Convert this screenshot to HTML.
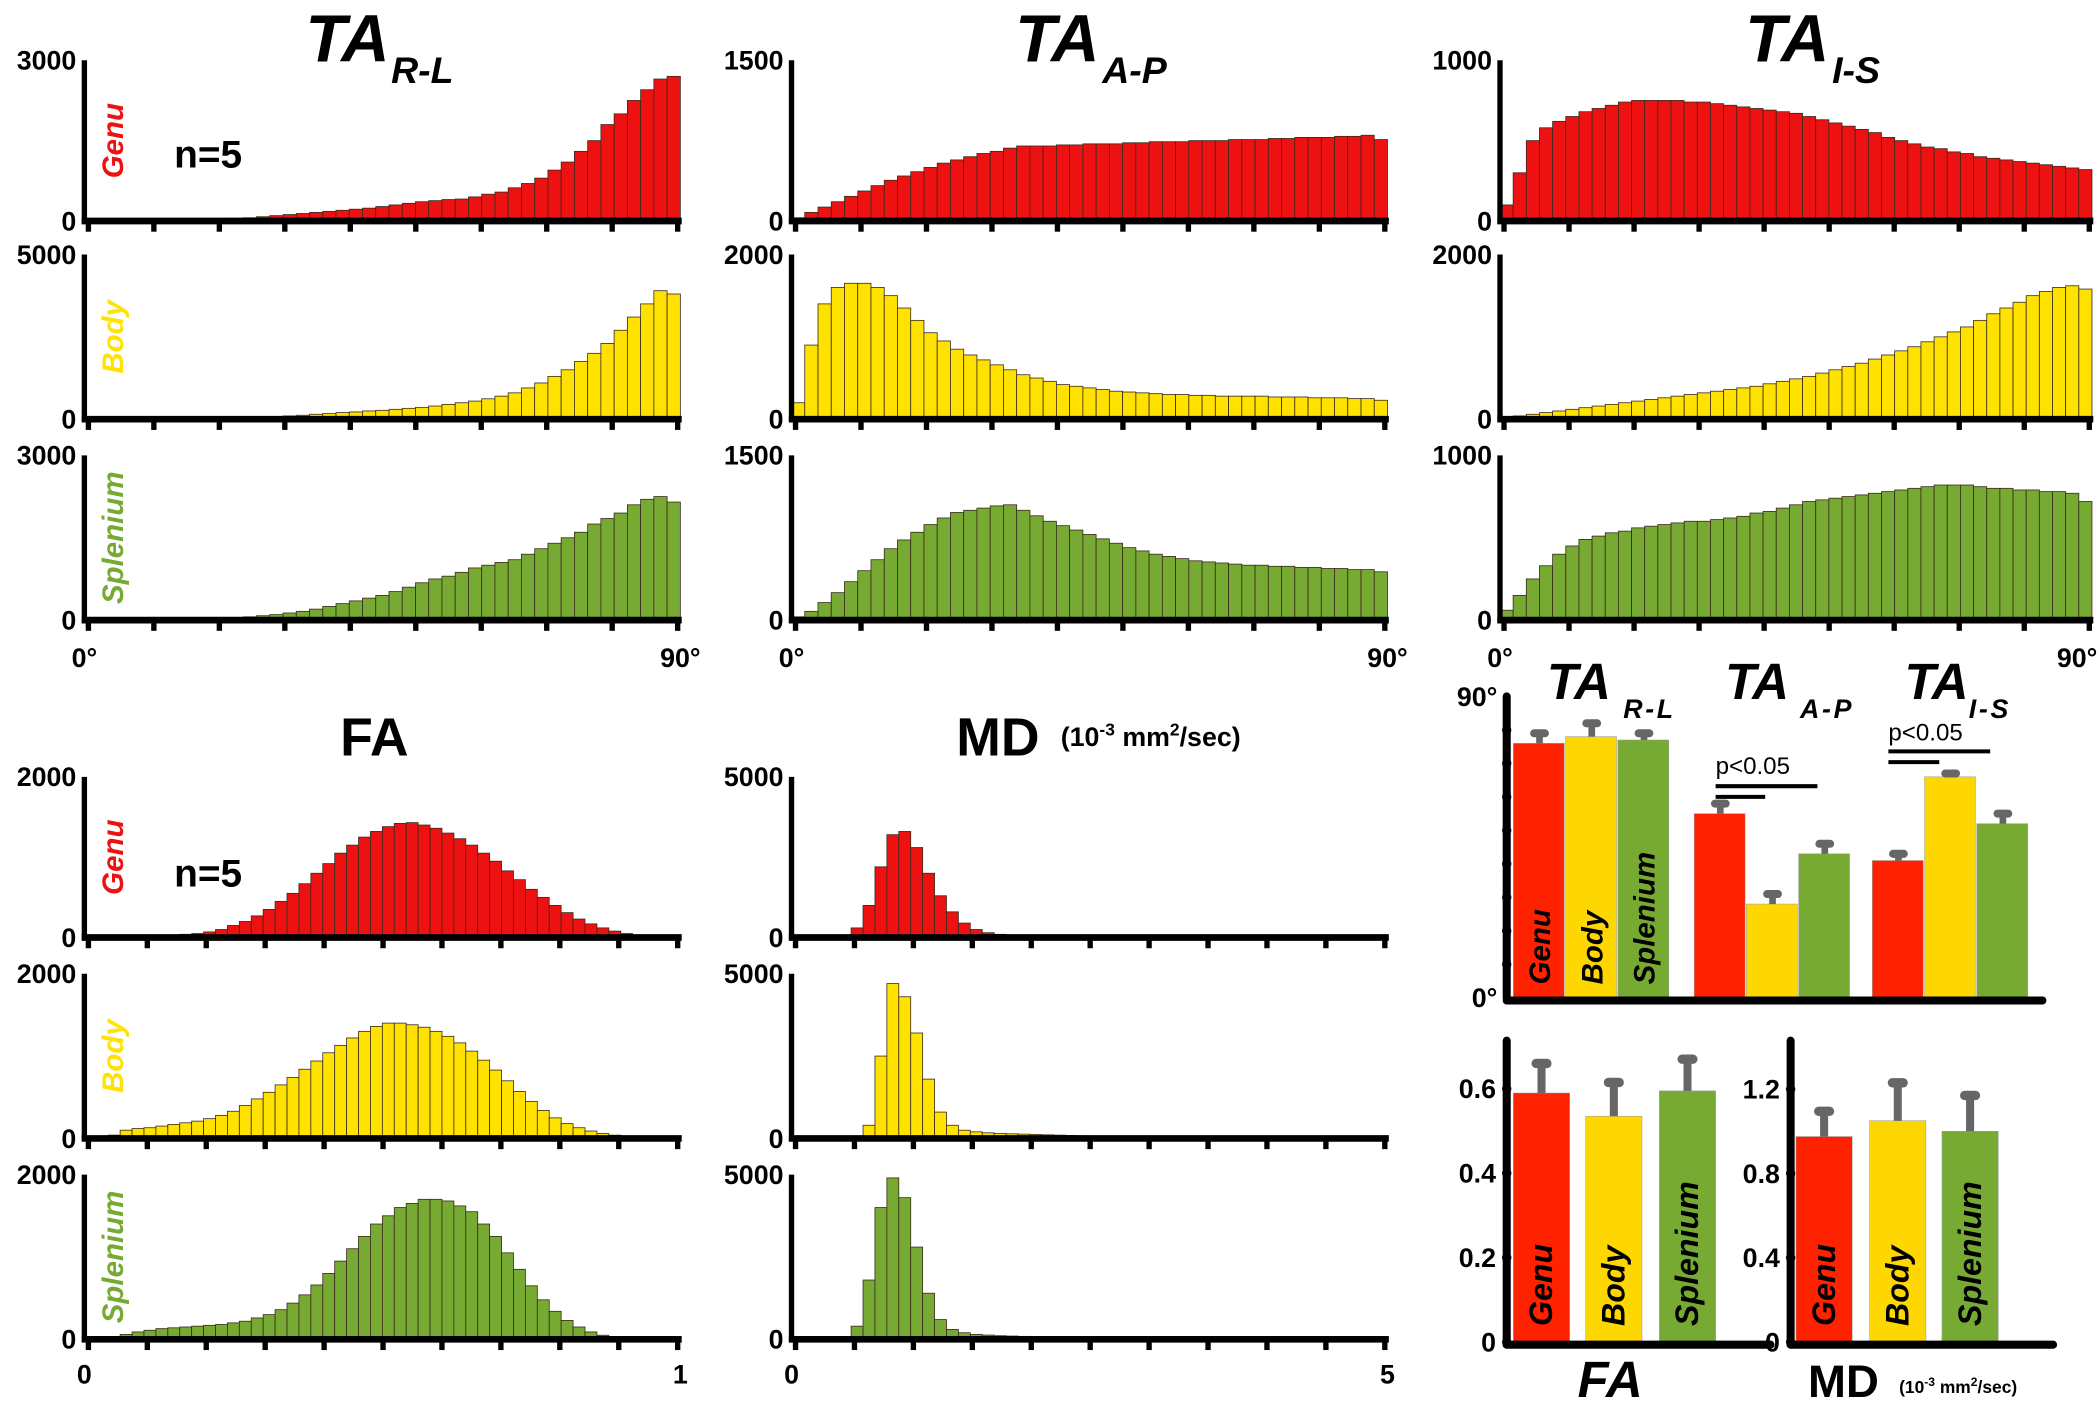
<!DOCTYPE html>
<html><head><meta charset="utf-8"><style>
html,body{margin:0;padding:0;background:#fff;}
svg{display:block;font-family:"Liberation Sans",sans-serif;}
</style></head><body>
<svg id="fig" width="2100" height="1413" viewBox="0 0 1568 1055" preserveAspectRatio="none" xmlns="http://www.w3.org/2000/svg">
<rect width="1568" height="1055" fill="#fff"/>
<g id="hists"></g>
<g id="bars"></g>
<g id="texts" font-weight="bold">
 <text x="228" y="46" font-size="50" font-style="italic">TA</text>
 <text x="292" y="62" font-size="28" font-style="italic">R-L</text>
 <text x="758" y="46" font-size="50" font-style="italic">TA</text>
 <text x="823" y="62" font-size="28" font-style="italic">A-P</text>
 <text x="1303" y="46" font-size="50" font-style="italic">TA</text>
 <text x="1368" y="62" font-size="28" font-style="italic">I-S</text>
 <text x="254" y="564" font-size="40">FA</text>
 <text x="714" y="564" font-size="40">MD</text>
 <text x="792" y="557" font-size="20">(10<tspan font-size="13" dy="-8">-3</tspan><tspan dy="8"> mm</tspan><tspan font-size="13" dy="-8">2</tspan><tspan dy="8">/sec)</tspan></text>
 <text x="130" y="125" font-size="29">n=5</text>
 <text x="130" y="662" font-size="29">n=5</text>
 <text x="1155" y="522" font-size="38" font-style="italic">TA</text>
 <text x="1212" y="536" font-size="20" font-style="italic" letter-spacing="2">R-L</text>
 <text x="1288" y="522" font-size="38" font-style="italic">TA</text>
 <text x="1344" y="536" font-size="20" font-style="italic" letter-spacing="2">A-P</text>
 <text x="1422" y="522" font-size="38" font-style="italic">TA</text>
 <text x="1470" y="536" font-size="20" font-style="italic" letter-spacing="2">I-S</text>
 <text x="1178" y="1043" font-size="38" font-style="italic">FA</text>
 <text x="1350" y="1043" font-size="34">MD</text>
 <text x="1418" y="1040" font-size="13">(10<tspan font-size="9" dy="-5">-3</tspan><tspan dy="5"> mm</tspan><tspan font-size="9" dy="-5">2</tspan><tspan dy="5">/sec)</tspan></text>
</g>
</svg>
<script>
// ---- histogram data ----
const taRL_genu=[0,0,0,0,0,5,10,15,20,30,40,50,60,80,100,120,140,160,180,200,220,240,270,300,330,360,380,400,410,450,500,540,620,700,800,950,1100,1300,1500,1800,2000,2250,2450,2650,2700];
const taRL_body=[0,0,0,0,0,0,5,10,15,20,30,40,50,60,80,100,120,150,170,200,220,250,270,300,330,360,400,450,500,550,620,700,800,950,1100,1300,1500,1750,2000,2300,2700,3100,3500,3900,3800];
const taRL_spl=[0,0,0,0,0,0,5,10,15,20,30,40,60,80,100,130,160,200,250,300,350,400,450,520,600,680,750,800,870,950,1000,1050,1100,1200,1300,1400,1500,1600,1750,1850,1950,2100,2200,2250,2150];
const taAP_genu=[30,80,130,180,230,280,330,380,420,460,500,540,570,600,630,650,680,700,700,700,710,710,720,720,720,730,730,740,740,740,750,750,750,760,760,760,770,770,780,780,780,790,790,800,760];
const taAP_body=[200,900,1400,1600,1650,1650,1600,1500,1350,1200,1050,950,850,780,720,660,600,540,500,460,420,400,380,360,340,330,320,310,300,300,290,290,280,280,280,280,270,270,270,260,260,260,250,250,230];
const taAP_spl=[30,80,160,250,350,450,550,650,730,800,870,930,980,1000,1020,1040,1050,1000,950,900,860,820,780,740,700,660,630,600,580,560,540,530,520,510,500,500,490,490,480,480,470,470,460,460,440];
const taIS_genu=[100,300,500,580,620,650,680,700,720,740,750,750,750,750,740,740,730,720,710,700,690,680,670,650,630,610,590,570,550,520,500,480,460,450,430,420,400,390,380,370,360,350,340,330,320];
const taIS_body=[20,40,60,80,100,120,140,160,180,200,220,240,260,280,300,320,340,360,380,400,430,460,490,520,560,600,640,680,730,780,830,880,940,1000,1060,1120,1200,1280,1350,1420,1500,1550,1600,1620,1580];
const taIS_spl=[60,150,250,330,400,450,490,510,530,540,560,570,580,590,600,600,610,620,630,650,660,680,700,720,730,740,750,760,770,780,790,800,810,820,820,820,810,800,800,790,790,780,780,770,720];
const fa_genu=[0,0,0,0,5,10,20,30,40,50,70,100,150,200,270,350,450,550,670,800,920,1050,1150,1250,1320,1380,1420,1430,1400,1360,1300,1230,1150,1050,950,830,720,600,500,400,310,230,170,120,80,50,30,20,10,5];
const fa_body=[0,0,40,100,120,130,150,170,190,210,240,280,330,400,480,560,650,740,840,940,1040,1130,1220,1300,1360,1400,1400,1380,1350,1300,1240,1160,1060,950,830,700,570,450,340,250,180,130,90,60,40,25,15,5,0,0];
const fa_spl=[0,0,20,60,90,110,130,140,150,160,170,180,200,220,260,300,360,440,540,660,800,950,1100,1250,1400,1500,1600,1650,1700,1700,1680,1620,1550,1400,1250,1050,850,650,480,340,230,150,90,50,30,15,5,0,0,0];
const md_genu=[0,0,0,0,50,300,1000,2200,3200,3300,2800,2000,1300,800,450,250,150,100,80,60,50,40,35,30,25,20,20,15,15,10,10,10,8,8,6,6,5,5,4,4,3,3,2,2,2,1,1,1,0,0];
const md_body=[0,0,0,0,0,50,400,2500,4700,4300,3200,1800,800,400,250,200,170,150,140,130,120,110,100,90,80,70,60,50,45,40,35,30,25,20,15,12,10,8,6,5,4,3,2,2,1,1,0,0,0,0];
const md_spl=[0,0,0,0,50,400,1800,4000,4900,4300,2800,1400,600,300,200,150,130,110,100,90,80,75,70,65,60,55,50,45,40,35,30,25,20,18,15,12,10,8,6,5,4,3,2,2,1,1,0,0,0,0];
const histMax=[3000,5000,3000,1500,2000,1500,1000,2000,1000,2000,2000,2000,5000,5000,5000];
const histTopLabels=["3000","5000","3000","1500","2000","1500","1000","2000","1000","2000","2000","2000","5000","5000","5000"];
// ---- bar chart data ----
const regions=["Genu","Body","Splenium"];
const taGroups=["R-L","A-P","I-S"];
const taMeans=[[76,78,77],[55,28,43],[41,66,52]];
const taErr=[[3,4,2],[3,3,3],[2,1,3]];
const faMeans=[0.59,0.535,0.595];
const faErr=[0.07,0.08,0.075];
const mdMeans=[0.975,1.05,1.0];
const mdErr=[0.12,0.18,0.17];
const faTicks=[0,0.2,0.4,0.6];
const mdTicks=[0,0.4,0.8,1.2];

const NS="http://www.w3.org/2000/svg";
function mk(tag,attrs,parent){const e=document.createElementNS(NS,tag);for(const k in attrs)e.setAttribute(k,attrs[k]);parent.appendChild(e);return e;}
const H=document.getElementById('hists'), B=document.getElementById('bars');
const RED="#ee1111",YEL="#ffe200",GRN="#77aa33";
const colX=[[63,508],[591,1036],[1120,1562]];
const rowsTop=[[45,165],[190,313],[340,463]], rowsBot=[[580,700],[727,850],[877,1000]];
const panels=[
 [taRL_genu,0,0,RED],[taRL_body,0,1,YEL],[taRL_spl,0,2,GRN],
 [taAP_genu,1,0,RED],[taAP_body,1,1,YEL],[taAP_spl,1,2,GRN],
 [taIS_genu,2,0,RED],[taIS_body,2,1,YEL],[taIS_spl,2,2,GRN],
 [fa_genu,0,3,RED],[fa_body,0,4,YEL],[fa_spl,0,5,GRN],
 [md_genu,1,3,RED],[md_body,1,4,YEL],[md_spl,1,5,GRN]];
panels.forEach((p,pi)=>{
 const vals=p[0],x0=colX[p[1]][0],x1=colX[p[1]][1];
 const r=p[2]<3?rowsTop[p[2]]:rowsBot[p[2]-3];
 const yT=r[0],yB=r[1],mx=histMax[pi];
 const g=mk('g',{},H);
 
 
 const bw=(x1-x0)/vals.length;
 const yS=v=>yB-(v/mx)*(yB-yT);
 vals.forEach((v,i)=>{
  const rc=mk('rect',{x:x0+i*bw,y:yS(v),width:bw,height:yB-yS(v),fill:p[3],stroke:"#3a2a1a","stroke-width":0.6},g);
  
  
 });
 const ya=mk('line',{x1:x0,y1:yT,x2:x0,y2:yB+2,stroke:"#000","stroke-width":4},g);
 
 
 const xa=mk('line',{x1:x0-2,y1:yB,x2:x1+1,y2:yB,stroke:"#000","stroke-width":5},g);
 
 
 const nt=p[2]<3?10:11;
 for(let t=0;t<nt;t++){const tx=x0+3+t*(x1-x0-5)/(nt-1);
  const tk=mk('line',{x1:tx,y1:yB,x2:tx,y2:yB+8,stroke:"#000","stroke-width":4},g);
  
  }
 const tl=mk('text',{x:x0-6,y:yT+7,"text-anchor":"end","font-size":20,"font-weight":"bold"},g);
 tl.textContent=histTopLabels[pi];
 
 
 const zl=mk('text',{x:x0-6,y:yB+7,"text-anchor":"end","font-size":20,"font-weight":"bold"},g);
 zl.textContent="0";
 
 
 if(p[1]===0){
  const nm=["Genu","Body","Splenium"][p[2]%3];
  const lb=mk('text',{x:0,y:0,transform:`translate(92,${(yT+yB)/2}) rotate(-90)`,"text-anchor":"middle","font-size":22,"font-weight":"bold","font-style":"italic",fill:p[3]},g);
  lb.textContent=nm;
  
  
 }
 if(p[2]===2||p[2]===5){
  const labs=p[2]===2?["0°","90°"]:(p[1]===0?["0","1"]:["0","5"]);
  const yl=p[2]===2?498:1033;
  const rightX=p[1]===2?1566:x1;
  const rightAnchor=p[1]===2?"end":"middle";
  [[x0,labs[0],"middle"],[rightX,labs[1],rightAnchor]].forEach(a=>{
   const t=mk('text',{x:a[0],y:yl,"text-anchor":a[2],"font-size":20,"font-weight":"bold"},g);
   t.textContent=a[1];
   
   });
 }
});
// ---- bar charts ----
const BCOL=["#ff2200","#ffd700","#77aa33"];
function barChart(x0,xEnd,yTop,yBase,maxV,groups,means,errs,groupX,bw){
 const yS=v=>yBase-(v/maxV)*(yBase-yTop);
 groups.forEach((gx,gi)=>{
  means[gi].forEach((m,ri)=>{
   const bx=gx+ri*bw;
   const r=mk('rect',{x:bx,y:yS(m),width:bw-1,height:yBase-yS(m),fill:BCOL[ri],stroke:"#999","stroke-width":0.4},B);
   
   
   const eb=mk('line',{x1:bx+bw/2,y1:yS(m),x2:bx+bw/2,y2:yS(m+errs[gi][ri]),stroke:"#666","stroke-width":5},B);
   
   
   const cap=mk('line',{x1:bx+bw/2-4,y1:yS(m+errs[gi][ri]),x2:bx+bw/2+4,y2:yS(m+errs[gi][ri]),stroke:"#666","stroke-width":6,"stroke-linecap":"round"},B);
   
   
  });
 });
 const ya=mk('line',{x1:x0,y1:yTop,x2:x0,y2:yBase,stroke:"#000","stroke-width":6,"stroke-linecap":"round"},B);
 
 
 const xa=mk('line',{x1:x0,y1:yBase+2,x2:xEnd,y2:yBase+2,stroke:"#000","stroke-width":6,"stroke-linecap":"round"},B);
 
 
 return yS;
}
function inLabels(xs,bw,yb,size){
 xs.forEach((x,ri)=>{
  const t=mk('text',{x:0,y:0,transform:`translate(${x+ri*bw+bw/2+8},${yb}) rotate(-90)`,"font-size":size,"font-weight":"bold","font-style":"italic",fill:"#000"},B);
  t.textContent=regions[ri];
  
  
 });
}
// TA chart
const taGroupX=[1130,1265,1398];
barChart(1125,1525,520,745,90,taGroupX,taMeans,taErr,taGroupX,39);
inLabels([1130,1130,1130],39,735,22);
[["90°",1118,527],["0°",1118,752]].forEach(a=>{const t=mk('text',{x:a[1],y:a[2],"text-anchor":"end","font-size":20,"font-weight":"bold"},B);t.textContent=a[0];
 
 });
for(let i=1;i<9;i++){const d=mk('circle',{cx:1125,cy:745-i*25,r:3.5,fill:"#000"},B);
 
 }
// significance
[[1281,578,1357,1318,587],[1410,553,1486,1448,561]].forEach(s=>{
 const t=mk('text',{x:s[0],y:s[1],"font-size":18},B);t.textContent="p<0.05";
 
 
 const l1=mk('line',{x1:s[0],y1:s[4],x2:s[2],y2:s[4],stroke:"#000","stroke-width":3},B);
 
 
 const l2=mk('line',{x1:s[0],y1:s[4]+8,x2:s[3],y2:s[4]+8,stroke:"#000","stroke-width":3},B);
 
 
});
// FA & MD charts
function smallChart(x0,xEnd,means,errs,ticks,maxV,bx){
 const yTop=777,yBase=1002;
 const yS=v=>yBase-(v/maxV)*(yBase-yTop);
 means.forEach((m,ri)=>{
  const x=bx[ri];
  const r=mk('rect',{x:x,y:yS(m),width:42,height:yBase-yS(m),fill:BCOL[ri],stroke:"#999","stroke-width":0.4},B);
  
  
  const eb=mk('line',{x1:x+21,y1:yS(m),x2:x+21,y2:yS(m+errs[ri]),stroke:"#666","stroke-width":6},B);
  
  
  const cap=mk('line',{x1:x+17,y1:yS(m+errs[ri]),x2:x+25,y2:yS(m+errs[ri]),stroke:"#666","stroke-width":7,"stroke-linecap":"round"},B);
  
  
  const t=mk('text',{x:0,y:0,transform:`translate(${x+29},990) rotate(-90)`,"font-size":24,"font-weight":"bold","font-style":"italic"},B);
  t.textContent=regions[ri];
  
  
 });
 const ya=mk('line',{x1:x0,y1:yTop,x2:x0,y2:yBase+2,stroke:"#000","stroke-width":6,"stroke-linecap":"round"},B);
 
 
 const xa=mk('line',{x1:x0,y1:yBase+2,x2:xEnd,y2:yBase+2,stroke:"#000","stroke-width":6,"stroke-linecap":"round"},B);
 
 
 ticks.forEach(v=>{
  const t=mk('text',{x:x0-8,y:yS(v)+7,"text-anchor":"end","font-size":20,"font-weight":"bold"},B);
  t.textContent=String(v);
  
  
  const d=mk('circle',{cx:x0,cy:yS(v),r:3.5,fill:"#000"},B);
  
  
 });
}
smallChart(1125,1322,faMeans,faErr,faTicks,0.714,[1130,1184,1239]);
smallChart(1337,1533,mdMeans,mdErr,mdTicks,1.43,[1341,1396,1450]);
</script>
</body></html>
